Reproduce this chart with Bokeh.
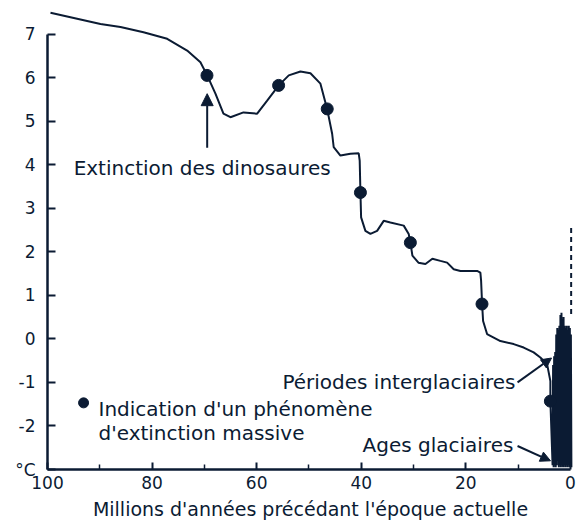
from bokeh.plotting import figure
from bokeh.models import Range1d, FixedTicker, Label, Arrow, NormalHead
from bokeh.embed import file_html
from bokeh.resources import INLINE

INK = "#0b1b33"
FONT = "DejaVu Sans"

# ---- data (millions of years before present, temperature deviation °C) ----
curve_age = [99.43, 89.87, 86.04, 81.64, 77.11, 73.29, 70.75, 69.46, 67.88, 66.35,
             65.01, 62.52, 59.90, 57.99, 55.77, 53.86, 51.63, 49.71, 47.80, 46.52,
             45.56, 45.26, 43.98, 42.07, 40.48, 40.29, 40.15, 40.02, 39.20, 38.24,
             36.96, 35.70, 34.42, 31.87, 30.92, 30.59, 30.21, 29.06, 27.72, 26.39,
             24.86, 23.57, 22.31, 21.03, 17.84, 17.21, 17.07, 16.88, 16.69, 15.93,
             14.66, 13.38, 10.84, 8.93, 7.02, 5.74, 4.45, 3.82, 3.82]
curve_temp = [7.49, 7.23, 7.16, 7.04, 6.89, 6.62, 6.35, 6.05, 5.63, 5.17,
              5.09, 5.20, 5.17, 5.47, 5.82, 6.05, 6.14, 6.10, 5.86, 5.28,
              4.71, 4.40, 4.21, 4.25, 4.26, 4.09, 3.36, 2.79, 2.48, 2.41,
              2.48, 2.71, 2.67, 2.60, 2.41, 2.21, 1.91, 1.75, 1.72, 1.84,
              1.79, 1.75, 1.60, 1.56, 1.56, 1.52, 1.33, 0.80, 0.41, 0.11,
              0.03, -0.05, -0.12, -0.20, -0.31, -0.43, -0.58, -0.97, -1.43]

# rapid glacial / interglacial oscillations of the last few million years
osc_age = [3.82, 3.4, 3.3, 3.2, 3.1, 3.0, 2.9, 2.8, 2.7, 2.6, 2.5, 2.4, 2.3, 2.2,
           2.1, 2.0, 1.9, 1.8, 1.7, 1.6, 1.5, 1.4, 1.3, 1.2, 1.1, 1.0, 0.9, 0.8,
           0.7, 0.6, 0.5, 0.4, 0.3, 0.2, 0.1, 0.0, -0.1, -0.2]
osc_temp = [-1.43, -2.9, -0.6, -2.95, -0.4, -2.9, -0.3, -2.95, 0.1, -2.9, 0.25, -2.8,
            0.2, -2.95, 0.3, -2.9, 0.55, -2.95, 0.6, -2.9, 0.45, -2.95, 0.5, -2.9,
            0.3, -2.95, 0.25, -2.9, 0.3, -2.95, 0.2, -2.9, 0.3, -2.95, 0.25, -2.9,
            0.1, -2.95]

# mass-extinction events
ext_age = [69.5, 55.8, 46.5, 40.15, 30.6, 16.9, 3.82]
ext_temp = [6.05, 5.82, 5.28, 3.36, 2.21, 0.80, -1.43]

# present-day dashed continuation
present_age = [-0.15, -0.15]
present_temp = [0.57, 2.64]

x_major_ticks = [100, 80, 60, 40, 20, 0]
x_minor_ticks = [90, 70, 50, 30, 10]
y_ticks = [-3, -2, -1, 0, 1, 2, 3, 4, 5, 6, 7]
y_tick_labels = ["°C", "-2", "-1", "0", "1", "2", "3", "4", "5", "6", "7"]

x_title = "Millions d'années précédant l'époque actuelle"
label_dino = "Extinction des dinosaures"
label_inter = "Périodes interglaciaires"
label_glac = "Ages glaciaires"
legend_lines = ["Indication d'un phénomène", "d'extinction massive"]

# ---- figure ----
p = figure(width=584, height=526,
           x_range=Range1d(100, -0.6), y_range=Range1d(-3, 7.54),
           output_backend="svg", toolbar_location=None,
           min_border_left=47, min_border_right=11,
           min_border_top=10, min_border_bottom=57)
p.outline_line_color = None
p.grid.visible = False
p.background_fill_color = "white"
p.border_fill_color = "white"

for ax in (p.xaxis[0], p.yaxis[0]):
    ax.axis_line_color = INK
    ax.axis_line_width = 2.5
    ax.major_tick_line_color = INK
    ax.major_tick_line_width = 2
    ax.major_tick_out = 0
    ax.minor_tick_line_color = INK
    ax.minor_tick_line_width = 1.5
    ax.minor_tick_out = 0
    ax.major_label_text_font = FONT
    ax.major_label_text_font_size = "17px"
    ax.major_label_text_color = INK

p.xaxis.bounds = (0, 100)
p.xaxis.ticker = FixedTicker(ticks=x_major_ticks, minor_ticks=x_minor_ticks)
p.xaxis.major_tick_in = 7
p.xaxis.minor_tick_in = 5
p.xaxis.major_label_standoff = 6
p.xaxis.axis_label = x_title
p.xaxis.axis_label_text_font = FONT
p.xaxis.axis_label_text_font_size = "19px"
p.xaxis.axis_label_text_font_style = "normal"
p.xaxis.axis_label_text_color = INK
p.xaxis.axis_label_standoff = 6

p.yaxis.bounds = (-3, 7)
p.yaxis.ticker = FixedTicker(ticks=y_ticks, minor_ticks=[])
p.yaxis.major_label_overrides = {t: s for t, s in zip(y_ticks, y_tick_labels)}
p.yaxis.major_tick_in = 8
p.yaxis.major_label_standoff = 12

# ---- marks ----
p.line(curve_age, curve_temp, line_width=2, color=INK)
p.line(osc_age, osc_temp, line_width=2, color=INK)
p.line(present_age, present_temp, line_width=2, color=INK, line_dash="5 4")
p.scatter(ext_age, ext_temp, size=12, color=INK)

# legend dot
p.scatter([93.1], [-1.47], size=10, color=INK)

# ---- annotations ----
def lab(x, y, text, align="left", size="20px"):
    p.add_layout(Label(x=x, y=y, text=text, text_font=FONT, text_font_size=size,
                       text_color=INK, text_align=align, text_baseline="alphabetic"))

lab(95.0, 3.93, label_dino)
lab(10.5, -0.99, label_inter, align="right")
lab(10.9, -2.44, label_glac, align="right")
lab(90.25, -1.61, legend_lines[0])
lab(90.25, -2.16, legend_lines[1])

def arrow(x0, y0, x1, y1, size):
    p.add_layout(Arrow(end=NormalHead(size=size, fill_color=INK, line_color=INK),
                       x_start=x0, y_start=y0, x_end=x1, y_end=y1,
                       line_color=INK, line_width=2))

arrow(69.46, 4.39, 69.46, 5.63, 12)
arrow(10.1, -1.0, 3.6, -0.44, 10)
arrow(10.1, -2.46, 3.8, -2.80, 10)

open("out.html", "w").write(file_html(p, INLINE))
